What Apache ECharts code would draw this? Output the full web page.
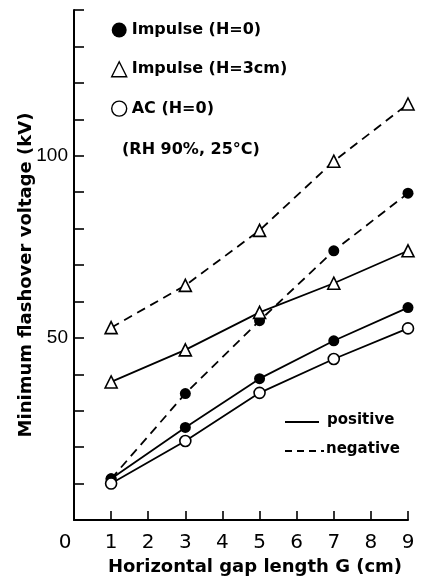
<!DOCTYPE html>
<html>
<head>
<meta charset="utf-8">
<script src="https://cdn.jsdelivr.net/npm/echarts@6/dist/echarts.min.js"></script>
<style>
  html, body { margin: 0; padding: 0; background: #fff; }
  #main { width: 426px; height: 581px; }
</style>
</head>
<body>
<div id="main"></div>
<script>
// gap length G (cm)
const gap = [1, 3, 5, 7, 9]

// minimum flashover voltage (kV)
const impH0Pos = [11.3, 25.4, 38.8, 49.2, 58.3]
const impH0Neg = [11.3, 34.7, 54.7, 73.9, 89.7]
const impH3Pos = [37.9, 46.7, 57.0, 65.0, 73.9]
const impH3Neg = [52.8, 64.4, 79.5, 98.5, 114.2]
const acPos = [10.0, 21.7, 34.9, 44.2, 52.6]

const yLabels = [50, 100]

const font = 'DejaVu Sans'
const pair = vals => gap.map((g, i) => [g, vals[i]])

const chart = echarts.init(document.getElementById('main'), null, { renderer: 'canvas' })

const filledDot = {
  symbol: 'circle',
  symbolSize: 11,
  itemStyle: { color: '#000' }
}
const openTri = {
  symbol: 'triangle',
  symbolSize: 12,
  itemStyle: { color: '#fff', borderColor: '#000', borderWidth: 1.6 }
}
const openDot = {
  symbol: 'circle',
  symbolSize: 11,
  itemStyle: { color: '#fff', borderColor: '#000', borderWidth: 1.6 }
}

const line = (name, vals, marker, dashed) => Object.assign({
  name: name,
  type: 'line',
  data: pair(vals),
  lineStyle: {
    color: '#000',
    width: 1.8,
    type: dashed ? [9, 6] : 'solid'
  },
  z: 3,
  animation: false
}, marker)

const option = {
  backgroundColor: '#fff',
  animation: false,
  grid: {
    left: 74,
    right: 18,
    top: 10,
    bottom: 58
  },
  legend: {
    orient: 'vertical',
    left: 106,
    top: 17,
    itemWidth: 15,
    itemHeight: 15,
    itemGap: 23,
    selectedMode: false,
    textStyle: { fontFamily: font, fontWeight: 'bold', fontSize: 16, color: '#000' },
    data: [
      { name: 'Impulse (H=0)', icon: 'circle', itemStyle: { color: '#000' } },
      { name: 'Impulse (H=3cm)', icon: 'triangle', itemStyle: { color: '#fff', borderColor: '#000', borderWidth: 1.4 } },
      { name: 'AC (H=0)', icon: 'circle', itemStyle: { color: '#fff', borderColor: '#000', borderWidth: 1.4 } }
    ]
  },
  xAxis: {
    type: 'value',
    min: 0,
    max: 9,
    interval: 1,
    name: 'Horizontal gap length G (cm)',
    nameLocation: 'middle',
    nameGap: 38,
    nameMoveOverlap: false,
    nameTextStyle: { fontFamily: font, fontWeight: 'bold', fontSize: 18, color: '#000', padding: [0, 0, 0, 28] },
    axisLine: { lineStyle: { color: '#000', width: 2 } },
    axisTick: { inside: true, length: 9, lineStyle: { color: '#000', width: 1.6 } },
    axisLabel: {
      fontFamily: font,
      fontSize: 20,
      color: '#000',
      margin: 13,
      formatter: v => (v === 0 ? '{z|0}' : String(v)),
      rich: { z: { fontFamily: font, fontSize: 20, color: '#000', padding: [0, 18, 0, 0] } }
    },
    splitLine: { show: false }
  },
  yAxis: {
    type: 'value',
    min: 0,
    max: 140,
    interval: 10,
    name: 'Minimum flashover voltage (kV)',
    nameLocation: 'middle',
    nameRotate: 90,
    nameGap: 39,
    nameMoveOverlap: false,
    nameTextStyle: { fontFamily: font, fontWeight: 'bold', fontSize: 18, color: '#000', padding: [0, 20, 0, 0] },
    axisLine: { lineStyle: { color: '#000', width: 2 } },
    axisTick: { inside: true, length: 10, lineStyle: { color: '#000', width: 1.6 } },
    axisLabel: {
      fontFamily: 'Liberation Sans',
      fontSize: 19,
      color: '#000',
      margin: 6,
      showMinLabel: false,
      formatter: v => (yLabels.indexOf(v) >= 0 ? String(v) : '')
    },
    splitLine: { show: false }
  },
  graphic: [
    {
      type: 'text',
      left: 122,
      top: 142,
      style: { text: '(RH 90%, 25°C)', fontFamily: font, fontWeight: 'bold', fontSize: 16, fill: '#000' }
    },
    {
      type: 'line',
      shape: { x1: 285, y1: 422, x2: 319, y2: 422 },
      style: { stroke: '#000', lineWidth: 1.8 }
    },
    {
      type: 'text',
      left: 327,
      top: 413,
      style: { text: 'positive', fontFamily: font, fontWeight: 'bold', fontSize: 15, fill: '#000' }
    },
    {
      type: 'line',
      shape: { x1: 285, y1: 451, x2: 324, y2: 451 },
      style: { stroke: '#000', lineWidth: 1.8, lineDash: [7, 5] }
    },
    {
      type: 'text',
      left: 326,
      top: 442,
      style: { text: 'negative', fontFamily: font, fontWeight: 'bold', fontSize: 15, fill: '#000' }
    }
  ],
  series: [
    line('Impulse (H=0)', impH0Pos, filledDot, false),
    line('Impulse (H=0)', impH0Neg, filledDot, true),
    line('Impulse (H=3cm)', impH3Pos, openTri, false),
    line('Impulse (H=3cm)', impH3Neg, openTri, true),
    line('AC (H=0)', acPos, openDot, false)
  ]
}

chart.setOption(option)
</script>
</body>
</html>
